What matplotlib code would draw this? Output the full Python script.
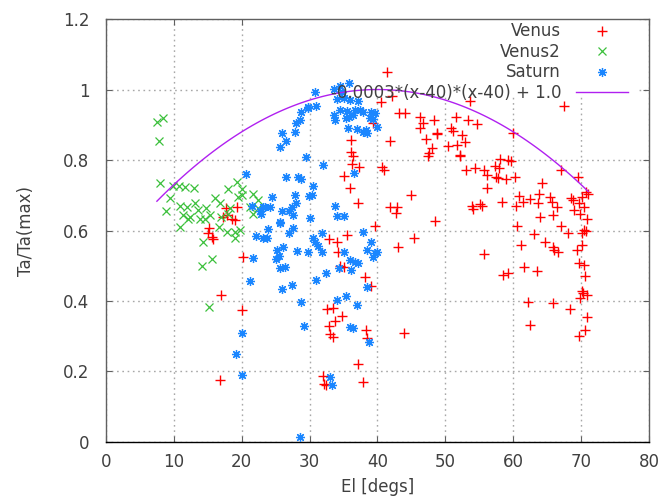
import numpy as np
import matplotlib
matplotlib.use("Agg")
import matplotlib.pyplot as plt
from matplotlib.patches import Rectangle

# Venus (red +)
venus_el = [17.7, 19.25, 17.9, 17.2, 18.5, 19.0, 15.2, 15.1, 15.6, 15.7, 20.2, 16.9, 20.1, 16.8,
            39.7, 35.5, 32.8, 34.0, 34.2, 34.5, 35.1, 38.2, 39.0, 32.5, 33.5, 34.7, 32.8, 33.8,
            33.0, 33.5, 38.3, 38.4, 37.2, 31.9, 32.1, 32.4, 37.9, 43.0,
            41.45, 40.5, 42.1, 43.1, 44.1, 39.4, 41.8, 36.1, 36.05, 36.4, 36.3, 37.3, 35.0, 35.9,
            37.1, 40.6, 41.0, 41.9, 42.9, 42.8,
            46.3, 46.65, 46.2, 48.3, 47.1, 48.7, 48.8, 48.0, 47.6, 47.4, 53.6, 51.6, 53.4, 54.7,
            50.8, 51.1, 52.5, 50.4, 51.7, 52.9, 52.1, 52.15, 53.0, 54.4, 55.7, 56.2, 57.3, 57.95,
            58.05, 59.3, 57.5, 59.0, 57.8, 56.1, 45.0, 48.5, 58.4, 53.9, 54.1, 55.1, 55.35, 45.4,
            55.7, 58.5, 59.3, 43.9,
            67.5, 59.9, 67.0, 69.6, 70.7, 71.05, 59.6, 60.3, 60.9, 61.4, 62.4, 60.4, 63.8, 63.7,
            64.3, 65.4, 65.7, 66.5, 68.45, 68.75, 68.95, 69.7, 70.1, 70.4, 69.8, 70.9, 64.0, 65.8,
            60.5, 67.1, 68.0, 63.0, 70.4, 70.1, 70.7, 70.1, 61.2, 64.7, 65.8, 66.0, 66.6, 69.4,
            69.7, 70.4, 70.6, 61.6, 63.5, 70.1, 70.3, 70.9, 69.9, 62.2, 65.9, 68.35, 70.9, 70.6,
            69.7, 62.5]
venus_ta = [0.663, 0.666, 0.644, 0.637, 0.634, 0.630, 0.606, 0.592, 0.583, 0.575, 0.524, 0.417, 0.375, 0.176,
            0.614, 0.587, 0.575, 0.568, 0.540, 0.499, 0.497, 0.467, 0.443, 0.376, 0.379, 0.358, 0.329, 0.342,
            0.306, 0.299, 0.318, 0.294, 0.220, 0.187, 0.165, 0.162, 0.169, 0.554,
            1.049, 0.965, 0.981, 0.932, 0.932, 0.904, 0.854, 0.857, 0.822, 0.810, 0.790, 0.781, 0.756, 0.720,
            0.677, 0.781, 0.771, 0.668, 0.668, 0.651,
            0.921, 0.904, 0.890, 0.913, 0.861, 0.878, 0.874, 0.833, 0.819, 0.810, 0.968, 0.923, 0.913, 0.902,
            0.890, 0.883, 0.871, 0.840, 0.843, 0.852, 0.814, 0.810, 0.773, 0.778, 0.772, 0.757, 0.783, 0.776,
            0.802, 0.800, 0.753, 0.745, 0.748, 0.721, 0.702, 0.628, 0.682, 0.670, 0.660, 0.675, 0.669, 0.578,
            0.533, 0.474, 0.479, 0.308,
            0.953, 0.876, 0.772, 0.751, 0.710, 0.704, 0.798, 0.751, 0.698, 0.681, 0.688, 0.669, 0.704, 0.679,
            0.734, 0.696, 0.681, 0.667, 0.691, 0.686, 0.658, 0.679, 0.696, 0.667, 0.647, 0.634, 0.637, 0.643,
            0.613, 0.613, 0.594, 0.589, 0.601, 0.594, 0.599, 0.559, 0.559, 0.568, 0.554, 0.546, 0.540, 0.545,
            0.509, 0.502, 0.471, 0.496, 0.486, 0.427, 0.422, 0.417, 0.408, 0.398, 0.393, 0.376, 0.355, 0.319,
            0.300, 0.332]

# Venus2 (green x)
venus2_el = [7.5, 8.4, 7.8, 8.0, 9.9, 10.8, 11.6, 12.9, 9.4, 8.8, 10.9, 11.9, 11.4, 12.4, 13.1,
             13.6, 14.8, 15.3, 16.1, 16.8, 13.9, 14.6, 12.1, 18.0, 19.3, 20.0, 20.0, 19.5, 21.7,
             22.4, 21.2, 21.7, 22.4, 16.6, 17.8, 19.0, 19.7, 19.0, 10.9, 14.3, 15.6, 14.2, 15.2,
             18.0, 18.3, 17.0]
venus2_ta = [0.909, 0.918, 0.855, 0.736, 0.726, 0.726, 0.724, 0.722, 0.691, 0.656, 0.670, 0.666, 0.644, 0.639, 0.677,
             0.658, 0.663, 0.644, 0.691, 0.677, 0.634, 0.634, 0.634, 0.717, 0.738, 0.717, 0.701, 0.696, 0.705,
             0.686, 0.667, 0.648, 0.663, 0.611, 0.597, 0.597, 0.602, 0.578, 0.609, 0.568, 0.518, 0.500, 0.384,
             0.648, 0.663, 0.639]

# Saturn (blue *)
saturn_el = [30.8, 34.5, 35.85, 33.6, 34.7, 34.1, 35.0, 35.95, 37.2, 29.8, 31.0, 29.7, 28.8, 28.6,
             28.0, 27.8, 25.9, 26.5, 25.6, 34.5, 35.5, 36.7, 37.4, 33.6, 33.7, 35.4, 35.85, 36.4,
             37.9, 39.1, 39.6, 39.4, 38.9, 35.7, 37.0, 38.3, 38.5, 37.9, 39.9, 29.5, 32.0, 36.6,
             26.5, 28.3, 28.7, 30.45, 30.3, 29.96, 27.8, 28.0, 24.4, 24.2, 23.4, 25.9, 27.4, 27.6,
             30.1, 25.6, 27.6, 26.9, 31.8, 33.7, 34.0, 35.0, 37.8,
             39.1, 38.4, 39.6, 35.0, 31.8,
             23.9, 22.1, 23.2, 23.7, 30.45, 30.8, 31.3, 29.8, 28.2, 25.2, 26.1, 25.5, 25.0, 25.6,
             26.4, 21.7, 21.2, 26.0, 27.4, 28.7, 29.1, 30.9, 32.4, 34.4, 35.95, 36.7, 36.05, 37.2,
             39.9, 39.4, 38.4, 34.1, 35.4, 37.0, 35.95, 36.4, 38.8, 20.0, 19.15, 20.1, 33.0, 33.35,
             28.6,
             20.6, 21.5, 23.2, 22.9, 22.7, 25.6, 27.0]
saturn_ta = [0.992, 1.010, 1.019, 1.001, 0.994, 0.972, 0.975, 0.970, 0.968, 0.951, 0.953, 0.947, 0.937, 0.913,
             0.904, 0.880, 0.876, 0.855, 0.838, 0.942, 0.940, 0.942, 0.942, 0.928, 0.913, 0.918, 0.921, 0.928,
             0.937, 0.937, 0.932, 0.915, 0.918, 0.890, 0.887, 0.885, 0.876, 0.880, 0.894, 0.808, 0.786, 0.762,
             0.753, 0.751, 0.745, 0.726, 0.701, 0.698, 0.701, 0.677, 0.696, 0.668, 0.668, 0.654, 0.668, 0.644,
             0.635, 0.622, 0.606, 0.593, 0.592, 0.670, 0.640, 0.642, 0.597,
             0.568, 0.545, 0.535, 0.540, 0.540,
             0.603, 0.585, 0.578, 0.578, 0.578, 0.568, 0.556, 0.540, 0.543, 0.545, 0.554, 0.528, 0.518, 0.493,
             0.496, 0.521, 0.458, 0.434, 0.445, 0.398, 0.328, 0.459, 0.479, 0.493, 0.516, 0.512, 0.488, 0.507,
             0.540, 0.526, 0.441, 0.403, 0.414, 0.389, 0.327, 0.322, 0.285, 0.308, 0.250, 0.190, 0.185, 0.162,
             0.015,
             0.760, 0.670, 0.666, 0.648, 0.656, 0.625, 0.656]

# fitted curve: a*(x-x0)*(x-x0) + c
fit_a = -0.0003
fit_x0 = 40
fit_c = 1.0
fit_label = "-0.0003*(x-40)*(x-40) + 1.0"

text_color = "#404040"
plt.rcParams["font.family"] = ["DejaVu Sans"]
plt.rcParams["font.size"] = 12

fig = plt.figure(figsize=(6.6, 5.01), dpi=100)
ax = fig.add_axes([0.1606, 0.1178, 0.8227, 0.8442])

ax.set_xlim(0, 80)
ax.set_ylim(0, 1.2)
ax.set_xticks(np.arange(0, 81, 10))
ax.set_yticks(np.arange(0, 1.21, 0.2))
ax.set_yticklabels([f"{v:g}" for v in np.arange(0, 1.21, 0.2).round(1)])

ax.set_axisbelow(True)
ax.grid(True, color="#a8a8a8", linestyle=(0, (1.2, 2.6)), linewidth=1)
# gnuplot leaves the grid out behind the key
ax.add_patch(Rectangle((0.26, 0.816), 0.718, 0.184, transform=ax.transAxes,
                       facecolor="white", edgecolor="none", zorder=1))

ax.plot(venus_el, venus_ta, linestyle="none", marker="+", ms=7, mew=1.0,
        color="#ff0000", label="Venus", zorder=2)
ax.plot(venus2_el, venus2_ta, linestyle="none", marker="x", ms=6, mew=0.9,
        color="#3cc03c", label="Venus2", zorder=3)
ax.plot(saturn_el, saturn_ta, linestyle="none", marker=(8, 2, 0), ms=6.5, mew=0.9,
        color="#1a86ff", label="Saturn", zorder=4)

all_el = venus_el + venus2_el + saturn_el
xs = np.linspace(min(all_el), max(all_el), 100)
ax.plot(xs, fit_a * (xs - fit_x0) * (xs - fit_x0) + fit_c, color="#b020f0",
        linewidth=1, label=fit_label, zorder=5)

for side in ["left", "top", "right"]:
    ax.spines[side].set_color("#606060")
ax.spines["bottom"].set_color("black")
for s in ax.spines.values():
    s.set_linewidth(1.0)

ax.tick_params(direction="in", length=4.5, top=True, right=True, color="#606060",
               labelcolor=text_color, labelsize=12)
ax.tick_params(axis="y", pad=12)
ax.tick_params(axis="x", pad=8)

ax.set_xlabel("El [degs]", color=text_color, fontsize=12, labelpad=5)
ax.set_ylabel("Ta/Ta(max)", color=text_color, fontsize=12, labelpad=20)

leg = ax.legend(loc="upper right", bbox_to_anchor=(0.967, 1.0), frameon=False,
                markerfirst=False, fontsize=12, handlelength=3.1, handletextpad=0.9,
                labelspacing=0.15, borderaxespad=0, borderpad=0.2, numpoints=1,
                labelcolor=text_color)
for col in leg._legend_box._children[1]._children:
    col.align = "right"
leg.set_zorder(6)

fig.savefig("out.png", dpi=100)
